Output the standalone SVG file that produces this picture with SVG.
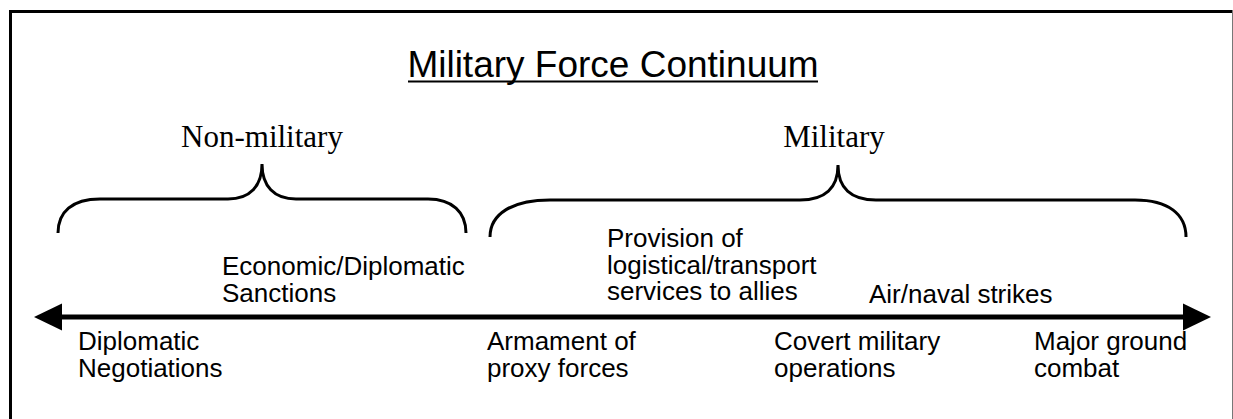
<svg xmlns="http://www.w3.org/2000/svg" width="1233" height="419" viewBox="0 0 1233 419">
<style>
.s{font-family:"Liberation Sans",Arial,sans-serif;font-size:26px;fill:#000}
.t{font-family:"Liberation Serif","Times New Roman",serif;font-size:31px;fill:#000}
.b{fill:none;stroke:#000;stroke-width:3}
</style>
<defs>
<marker id="ah" markerWidth="28" markerHeight="28" refX="0" refY="0" viewBox="0 -14 28 28" orient="auto-start-reverse" markerUnits="userSpaceOnUse">
<path d="M0,-13.5 L28,0 L0,13.5 Z" fill="#000"/>
</marker>
</defs>
<rect x="0" y="0" width="1233" height="419" fill="#fff"/>
<g id="frame">
<line x1="10.5" y1="11.5" x2="1232" y2="11.5" stroke="#000" stroke-width="3"/>
<line x1="10.5" y1="10" x2="10.5" y2="419" stroke="#000" stroke-width="3"/>
<line x1="1232.5" y1="10" x2="1232.5" y2="419" stroke="#777" stroke-width="1"/>
</g>
<g id="title">
<text class="s" x="613" y="77" text-anchor="middle" style="font-size:37px">Military Force Continuum</text>
<line x1="408" y1="81.5" x2="818" y2="81.5" stroke="#000" stroke-width="2"/>
</g>
<g id="non-military">
<text class="t" x="262" y="147" text-anchor="middle">Non-military</text>
<path class="b" d="M58,233 C58,212 72,199 100,199 L228,199 C250,199 262,186 262,164 C262,186 274,199 296,199 L428,199 C452,199 466,212 466,233"/>
</g>
<g id="military">
<text class="t" x="834" y="147" text-anchor="middle">Military</text>
<path class="b" d="M490,237 C490,214 512,200 550,200 L800,200 C825,200 838,188 838,165 C838,188 851,200 876,200 L1135,200 C1168,200 1186,214 1186,237"/>
</g>
<g id="connectors">
<line x1="62" y1="317" x2="1183" y2="317" stroke="#000" stroke-width="5" marker-start="url(#ah)" marker-end="url(#ah)"/>
</g>
<g id="sanctions"><text class="s" x="222" y="275">Economic/Diplomatic</text><text class="s" x="222" y="302">Sanctions</text></g>
<g id="provision"><text class="s" x="607" y="247">Provision of</text><text class="s" x="607" y="274">logistical/transport</text><text class="s" x="607" y="300">services to allies</text></g>
<g id="strikes"><text class="s" x="869" y="303">Air/naval strikes</text></g>
<g id="negotiations"><text class="s" x="78" y="350">Diplomatic</text><text class="s" x="78" y="377">Negotiations</text></g>
<g id="proxy"><text class="s" x="487" y="350">Armament of</text><text class="s" x="487" y="377">proxy forces</text></g>
<g id="covert"><text class="s" x="774" y="350">Covert military</text><text class="s" x="774" y="377">operations</text></g>
<g id="ground"><text class="s" x="1034" y="350">Major ground</text><text class="s" x="1034" y="377">combat</text></g>
</svg>
